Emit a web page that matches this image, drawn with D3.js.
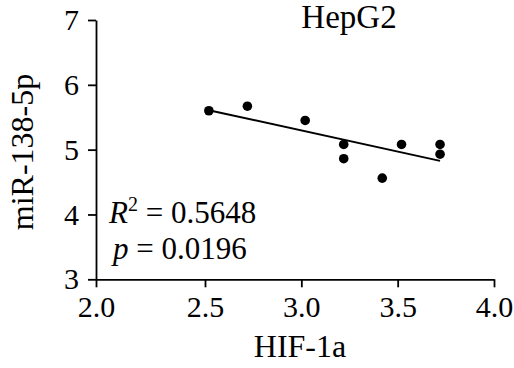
<!DOCTYPE html>
<html>
<head>
<meta charset="utf-8">
<script src="https://cdn.jsdelivr.net/npm/d3@7"></script>
<style>
  html, body { margin: 0; padding: 0; background: #fff; }
  svg { display: block; }
  text { font-family: "Liberation Serif", "Times New Roman", serif; fill: #000; }
</style>
</head>
<body>
<svg id="chart" width="514" height="368"></svg>
<script>
// ---- data ----
const hif1a   = [2.52, 2.72, 3.02, 3.22, 3.22, 3.42, 3.52, 3.72, 3.72];
const mir138  = [5.60, 5.67, 5.45, 5.08, 4.86, 4.56, 5.08, 5.08, 4.93];
const xTicks  = [2.0, 2.5, 3.0, 3.5, 4.0];
const yTicks  = [3, 4, 5, 6, 7];
const title   = "HepG2";
const xLabel  = "HIF-1a";
const yLabel  = "miR-138-5p";
const r2Text  = "0.5648";
const pText   = "0.0196";

// ---- layout ----
const svg = d3.select("#chart");
const x = d3.scaleLinear().domain([2.0, 2.5, 4.0]).range([96, 205, 494]);
const y = d3.scaleLinear().domain([3, 7]).range([279.3, 20]);

// axes
const gx = svg.append("g").attr("transform", `translate(0,${y(3)})`)
  .call(d3.axisBottom(x).tickValues(xTicks).tickFormat(d3.format(".1f"))
        .tickSize(8).tickPadding(8).tickSizeOuter(0));
const gy = svg.append("g").attr("transform", `translate(${x(2.0)},0)`)
  .call(d3.axisLeft(y).tickValues(yTicks).tickFormat(d3.format("d"))
        .tickSize(8).tickPadding(9).tickSizeOuter(0));
[gx, gy].forEach(g => {
  g.select(".domain").attr("stroke", "#000").attr("stroke-width", 1.8);
  g.selectAll(".tick line").attr("stroke", "#000").attr("stroke-width", 1.8);
  g.selectAll(".tick text").style("font-family", '"Liberation Serif", serif')
    .style("font-size", "30px").attr("fill", "#000");
});

// regression line (least squares from the data)
const mx = d3.mean(hif1a), my = d3.mean(mir138);
let sxy = 0, sxx = 0;
hif1a.forEach((v, i) => { sxy += (v - mx) * (mir138[i] - my); sxx += (v - mx) * (v - mx); });
const slope = sxy / sxx, icpt = my - slope * mx;
const [x0, x1] = d3.extent(hif1a);
svg.append("line")
  .attr("x1", x(x0)).attr("y1", y(icpt + slope * x0))
  .attr("x2", x(x1)).attr("y2", y(icpt + slope * x1))
  .attr("stroke", "#000").attr("stroke-width", 2);

// points
svg.append("g").selectAll("circle").data(hif1a).join("circle")
  .attr("cx", d => x(d)).attr("cy", (d, i) => y(mir138[i]))
  .attr("r", 4.8).attr("fill", "#000");

// title
svg.append("text").attr("x", 349).attr("y", 28).attr("text-anchor", "middle")
  .style("font-size", "33px").text(title);

// axis labels
svg.append("text").attr("x", 300).attr("y", 357).attr("text-anchor", "middle")
  .style("font-size", "32px").text(xLabel);
svg.append("text").attr("transform", `translate(33,152) rotate(-90)`)
  .attr("text-anchor", "middle").style("font-size", "32px").text(yLabel);

// stats annotation
const t1 = svg.append("text").attr("x", 109).attr("y", 223).style("font-size", "31px");
t1.append("tspan").style("font-style", "italic").text("R");
t1.append("tspan").attr("dy", -12).style("font-size", "20px").text("2");
t1.append("tspan").attr("dy", 12).text(" = " + r2Text);
const t2 = svg.append("text").attr("x", 113).attr("y", 259).style("font-size", "31px");
t2.append("tspan").style("font-style", "italic").text("p");
t2.append("tspan").text(" = " + pText);
</script>
</body>
</html>
